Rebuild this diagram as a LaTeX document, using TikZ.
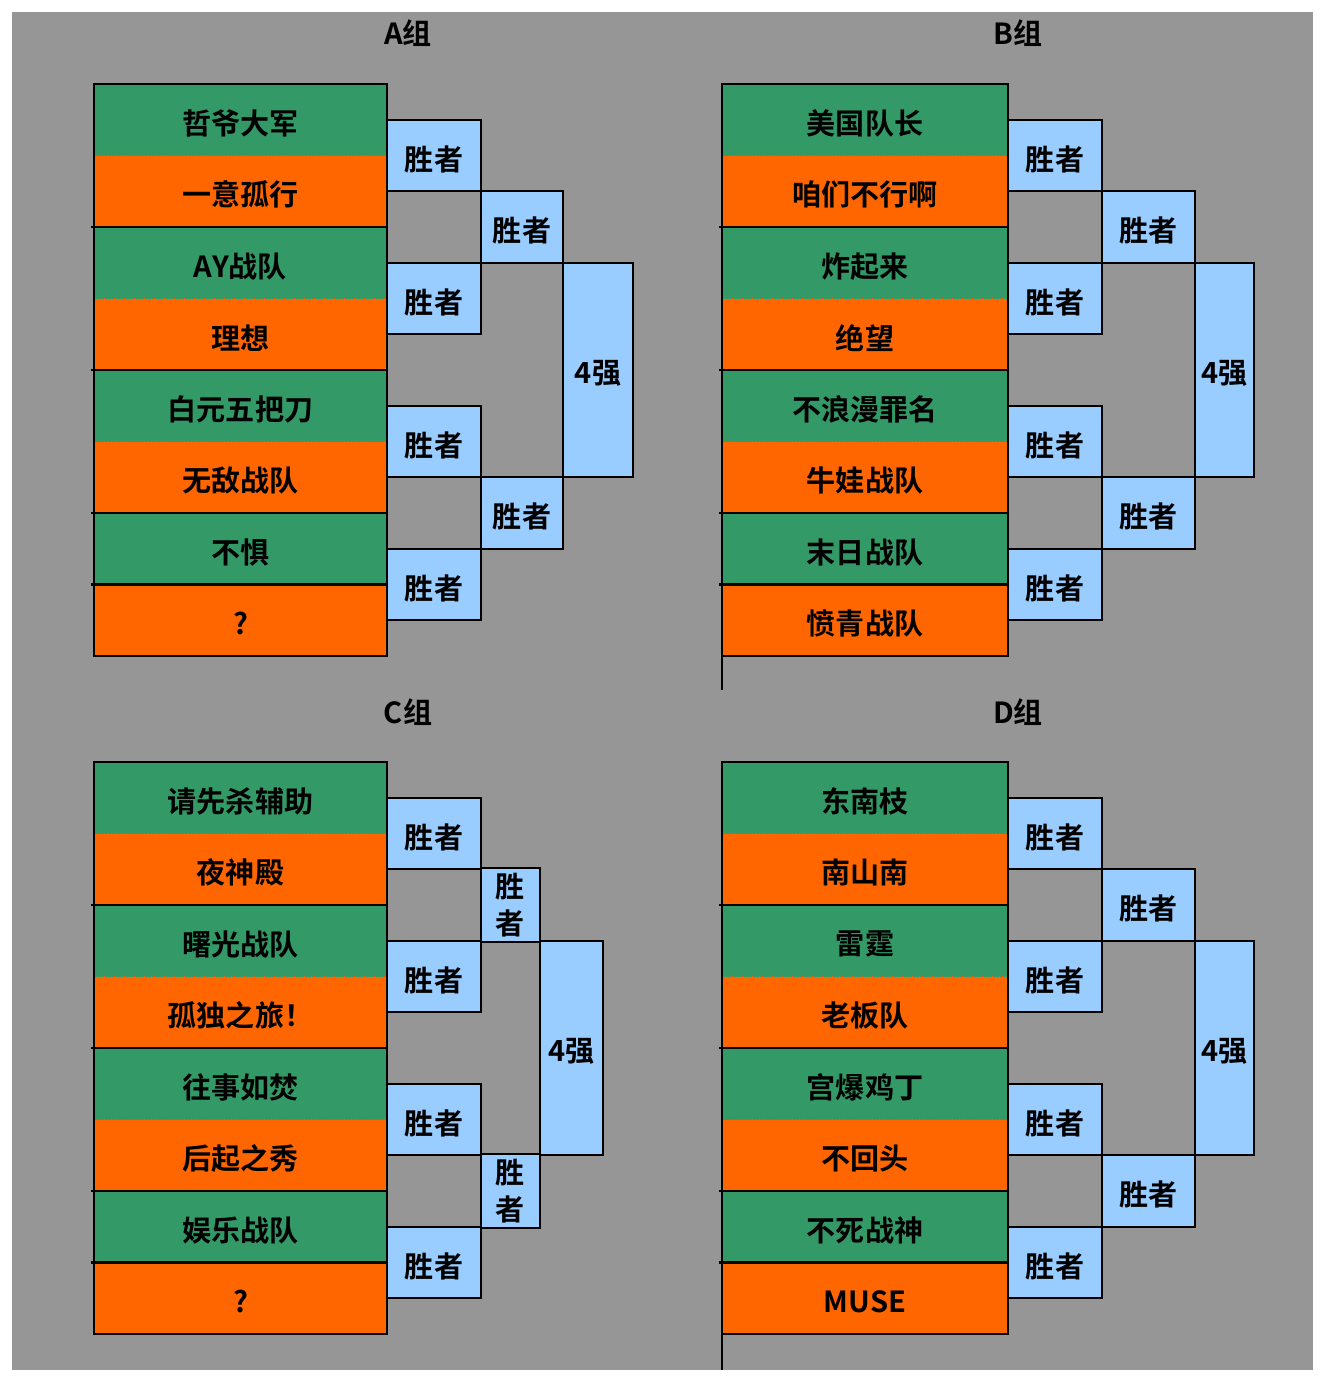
\documentclass[tikz,border=0pt]{standalone}
\usepackage{fontspec}
\setmainfont{Noto Sans CJK SC}[BoldFont={Noto Sans CJK SC Bold}]
\definecolor{bggray}{RGB}{150,150,150}
\definecolor{tgreen}{RGB}{51,153,102}
\definecolor{torange}{RGB}{255,102,0}
\definecolor{dotor}{RGB}{240,95,0}
\definecolor{lblue}{RGB}{153,204,255}
\newcommand\dnt[1]{\raisebox{-2.6pt}[\height][\depth]{#1}}
\tikzset{
  x=0.75pt, y=-0.75pt,
  every node/.style={font=\fontsize{21.8}{27.5}\selectfont\bfseries, text=black, inner sep=0pt, outer sep=0pt},
  teamcell/.style={rectangle, minimum height=53.625pt},
  row1/.style={fill=tgreen},
  row0/.style={fill=torange},
  boxline/.style={draw=black, line width=1.6pt},
  sepline/.style={draw=black, line width=1.6pt},
  sepdot/.style={draw=dotor, line width=0.5pt, dotted},
  win/.style={rectangle, fill=lblue, draw=black, line width=1.5pt, minimum height=53.625pt, align=center},
  final/.style={rectangle, fill=lblue, draw=black, line width=1.5pt, minimum height=160.875pt, align=center},
  grouptitle/.style={font=\fontsize{21.8}{27.5}\selectfont\bfseries}
}
% #1 prefix, #2 X0, #3 X1, #4 R1, #5 R2, #6 F, #7 Y0, #8 names, #9 round-2 label
\newcommand\bracketgroup[9]{%
  \foreach \nm [count=\i] in {#8}{%
    \pgfmathtruncatemacro\pp{mod(\i,2)}%
    \node[teamcell, row\pp, minimum width={(#3-#2)*0.75pt}] (#1t\i) at ({(#2+#3)/2},{#7+(\i-0.5)*71.5}) {\dnt{\nm}};
  }
  \foreach \k in {1,3,5}{\draw[sepdot] (#1t\k.south west) -- (#1t\k.south east);}
  \foreach \k in {2,4,6,7}{\draw[sepline] ([xshift=-2.25pt]#1t\k.south west) -- (#1t\k.south east);}
  \draw[boxline] (#1t1.north west) rectangle (#1t8.south east);
  \foreach \k/\r in {1/1,2/3,3/5,4/7}{%
    \node[win, minimum width={(#4-#3)*0.75pt}] (#1w\k) at ({(#3+#4)/2},{#7+\r*71.5}) {\dnt{胜者}};
  }
  \node[win, minimum width={(#5-#4)*0.75pt}] (#1s1) at ({(#4+#5)/2},{#7+2*71.5}) {\dnt{#9}};
  \node[win, minimum width={(#5-#4)*0.75pt}] (#1s2) at ({(#4+#5)/2},{#7+6*71.5}) {\dnt{#9}};
  \node[final, minimum width={(#6-#5)*0.75pt}] (#1f) at ({(#5+#6)/2},{#7+4*71.5}) {\dnt{4强}};
}
\begin{document}
\begin{tikzpicture}
\useasboundingbox (0,0) rectangle (1325,1382);
\fill[white] (0,0) rectangle (1325,1382);
\fill[bggray] (12,12) rectangle (1313,1370);

\node[grouptitle] (Atitle) at (408,33) {A组};
\node[grouptitle] (Btitle) at (1018,33) {B组};
\node[grouptitle] (Ctitle) at (408,712) {C组};
\node[grouptitle] (Dtitle) at (1018,712) {D组};

\bracketgroup{A}{94}{387}{481}{563}{633}{84}{哲爷大军,一意孤行,AY战队,理想,白元五把刀,无敌战队,不惧,?}{胜者}
\bracketgroup{B}{722}{1008}{1102}{1195}{1254}{84}{美国队长,咱们不行啊,炸起来,绝望,不浪漫罪名,牛娃战队,末日战队,愤青战队}{胜者}
\bracketgroup{C}{94}{387}{481}{540}{603}{762}{请先杀辅助,夜神殿,曙光战队,孤独之旅！,往事如焚,后起之秀,娱乐战队,?}{\begin{tabular}{@{}c@{}}胜\\者\end{tabular}}
\bracketgroup{D}{722}{1008}{1102}{1195}{1254}{762}{东南枝,南山南,雷霆,老板队,宫爆鸡丁,不回头,不死战神,MUSE}{胜者}

\coordinate (Bend) at (722,690);
\coordinate (Dend) at (722,1370);
\draw[boxline] (Bt8.south west) -- (Bend);
\draw[boxline] (Dt8.south west) -- (Dend);
\end{tikzpicture}
\end{document}
